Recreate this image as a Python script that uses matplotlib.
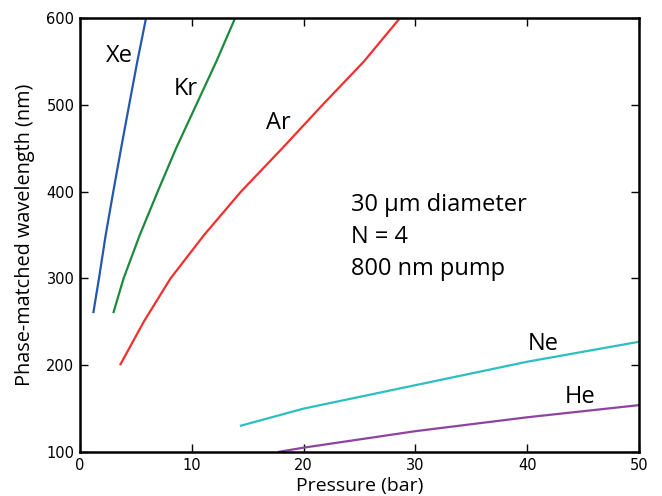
import matplotlib
matplotlib.use("Agg")
import matplotlib.pyplot as plt

# pressure (bar) vs phase-matched wavelength (nm)
xe_p = [1.19, 1.70, 2.30, 2.98, 3.68, 4.40, 5.13, 5.91]
xe_wl = [260, 300, 350, 400, 450, 500, 550, 600]

kr_p = [2.98, 3.90, 5.35, 6.95, 8.60, 10.40, 12.20, 13.88]
kr_wl = [260, 300, 350, 400, 450, 500, 550, 600]

ar_p = [3.58, 5.7, 8.1, 11.1, 14.4, 18.1, 21.7, 25.4, 28.62]
ar_wl = [200, 250, 300, 350, 400, 450, 500, 550, 600]

ne_p = [14.3, 20, 30, 40, 50]
ne_wl = [130, 150, 177, 204, 227]

he_p = [17.7, 20, 30, 40, 50]
he_wl = [100, 105, 124, 140, 154]

gases = ["Xe", "Kr", "Ar", "Ne", "He"]
colors = ["#2457b0", "#1c8a3c", "#f0302c", "#2cbfc0", "#8c44a0"]
label_pos = [(3.5, 556), (9.5, 518), (17.7, 479), (41.4, 225), (44.7, 163)]

note_lines = ["30 \u03bcm diameter", "N = 4", "800 nm pump"]

txt_font = "Open Sans"

fig = plt.figure(figsize=(6.62, 4.96), dpi=100)
ax = fig.add_axes([0.1208, 0.0887, 0.8445, 0.875])

series = [(xe_p, xe_wl), (kr_p, kr_wl), (ar_p, ar_wl), (ne_p, ne_wl), (he_p, he_wl)]
for (p, wl), c in zip(series, colors):
    ax.plot(p, wl, color=c, lw=1.6, solid_capstyle="butt", solid_joinstyle="round")

for g, (x, y) in zip(gases, label_pos):
    ax.text(x, y, g, fontsize=17, family=txt_font, ha="center", va="center")

for i, line in enumerate(note_lines):
    ax.text(24.2, 378 - i * 37, line, fontsize=17, family=txt_font,
            ha="left", va="baseline")

ax.set_xlim(0, 50)
ax.set_ylim(100, 600)
ax.set_xticks([0, 10, 20, 30, 40, 50])
ax.set_yticks([100, 200, 300, 400, 500, 600])
ax.tick_params(direction="in", length=5.5, width=1, top=True, right=True,
               labelsize=10.5, pad=4)
for s in ax.spines.values():
    s.set_linewidth(1.8)

ax.set_xlabel("Pressure (bar)", fontsize=14, family=txt_font, labelpad=3)
ax.set_ylabel("Phase-matched wavelength (nm)", fontsize=14.3, family=txt_font, labelpad=8)

fig.savefig("out.png", dpi=100)
